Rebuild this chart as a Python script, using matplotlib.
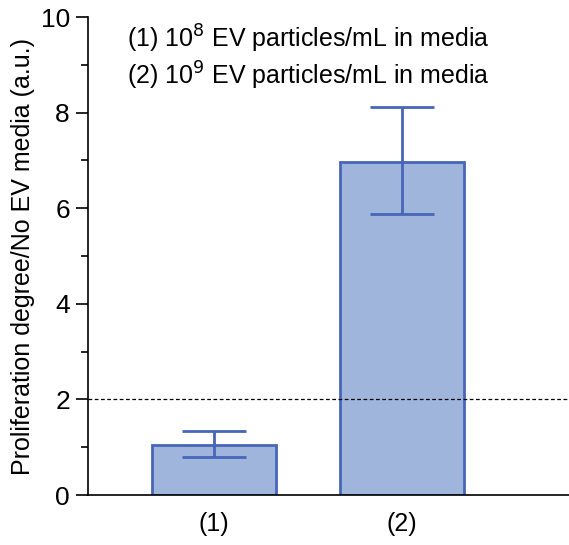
import matplotlib.pyplot as plt
from matplotlib.ticker import MultipleLocator

plt.rcParams['font.family'] = ['Liberation Sans', 'DejaVu Sans']

kategorie = ['(1)', '(2)']
wartosci = [1.05, 6.97]
blad_dol = [0.26, 1.09]
blad_gora = [0.29, 1.15]
prog = 2
opisy = [r'(1) 10$^{8}$ EV particles/mL in media',
         r'(2) 10$^{9}$ EV particles/mL in media']

fill = '#a0b5db'
edge = '#4766b8'

fig = plt.figure(figsize=(5.69, 5.45), dpi=100)
ax = fig.add_axes([0.1547, 0.0917, 0.8453, 0.8771])

x = range(len(kategorie))
ax.bar(x, wartosci, width=0.66, color=fill, edgecolor=edge, linewidth=2,
       yerr=[blad_dol, blad_gora], ecolor=edge,
       error_kw=dict(elinewidth=2, capsize=23, capthick=2), zorder=2)
ax.axhline(prog, color='black', linestyle='--', linewidth=0.9,
           dashes=(3, 2), zorder=3)

ax.set_xlim(-0.67, 1.89)
ax.set_ylim(0, 10)
ax.set_xticks(list(x))
ax.set_xticklabels(kategorie, fontsize=18)
ax.tick_params(axis='x', length=0, pad=12)
ax.yaxis.set_major_locator(MultipleLocator(2))
ax.yaxis.set_minor_locator(MultipleLocator(1))
ax.tick_params(axis='y', which='major', length=9, width=1.2, labelsize=19, pad=4)
ax.tick_params(axis='y', which='minor', length=5, width=1.2)
ax.set_ylabel('Proliferation degree/No EV media (a.u.)', fontsize=18, labelpad=4)

for s in ['top', 'right']:
    ax.spines[s].set_visible(False)
ax.spines['left'].set_linewidth(1.2)
ax.spines['bottom'].set_linewidth(1.2)

# opisy grup w lewym gornym rogu
ax.text(0.08, 0.937, opisy[0], transform=ax.transAxes, fontsize=18, va='baseline')
ax.text(0.08, 0.858, opisy[1], transform=ax.transAxes, fontsize=18, va='baseline')

fig.savefig('out.png', dpi=100)
